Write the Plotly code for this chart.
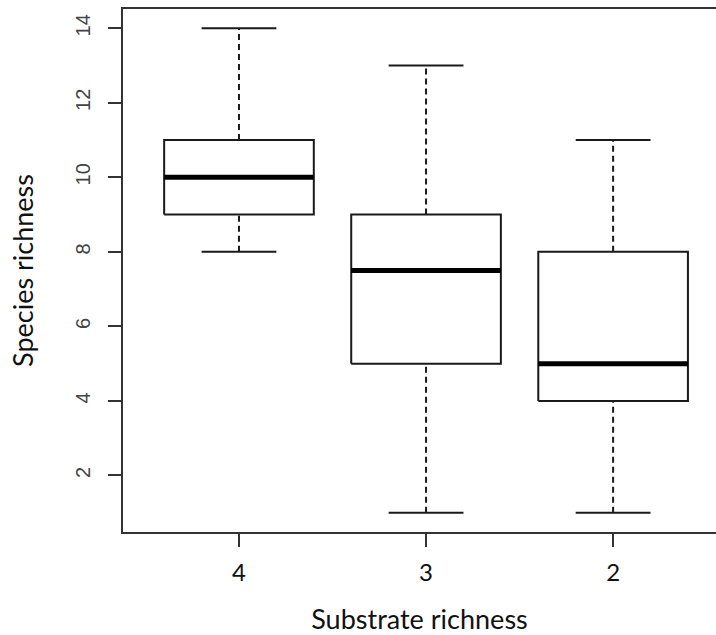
import plotly.graph_objects as go

# Data
groups = ["4", "3", "2"]          # substrate richness categories
lower_whisker = [8, 1, 1]
q1 = [9, 5, 4]
median = [10, 7.5, 5]
q3 = [11, 9, 8]
upper_whisker = [14, 13, 11]
y_ticks = [2, 4, 6, 8, 10, 12, 14]

BOX_HALF = 0.4
CAP_HALF = 0.2
LINE = "#1a1a1a"

fig = go.Figure()
for i, g in enumerate(groups):
    c = i + 1
    # whiskers (dashed)
    for a, b in ((lower_whisker[i], q1[i]), (q3[i], upper_whisker[i])):
        fig.add_trace(go.Scatter(x=[c, c], y=[a, b], mode="lines",
                                 line=dict(color=LINE, width=2, dash="6px,4px"),
                                 showlegend=False, hoverinfo="skip"))
    # caps
    for v in (lower_whisker[i], upper_whisker[i]):
        fig.add_trace(go.Scatter(x=[c - CAP_HALF, c + CAP_HALF], y=[v, v], mode="lines",
                                 line=dict(color=LINE, width=2),
                                 showlegend=False, hoverinfo="skip"))
    # box
    fig.add_trace(go.Scatter(
        x=[c - BOX_HALF, c + BOX_HALF, c + BOX_HALF, c - BOX_HALF, c - BOX_HALF],
        y=[q1[i], q1[i], q3[i], q3[i], q1[i]], mode="lines",
        line=dict(color=LINE, width=2), fill="toself", fillcolor="white",
        showlegend=False, hoverinfo="skip"))
    # median
    fig.add_trace(go.Scatter(x=[c - BOX_HALF, c + BOX_HALF], y=[median[i], median[i]],
                             mode="lines", line=dict(color="#000000", width=5),
                             showlegend=False, hoverinfo="skip"))

fig.update_layout(
    width=716, height=635,
    margin=dict(l=123, r=0, t=9, b=103),
    paper_bgcolor="white", plot_bgcolor="white",
    xaxis=dict(range=[0.38, 3.55], tickmode="array",
               tickvals=list(range(1, len(groups) + 1)), ticktext=groups,
               showgrid=False, zeroline=False, showline=True, mirror=True,
               linecolor="#333", linewidth=2, ticks="outside", ticklen=13,
               tickwidth=2, tickcolor="#333", ticklabelstandoff=5,
               tickfont=dict(family="Lato", size=24, color="#111"),
               title=dict(text="Substrate richness", standoff=25,
                          font=dict(family="Lato", size=27, color="#111"))),
    yaxis=dict(range=[0.48, 14.52], tickmode="array", tickvals=y_ticks,
               showgrid=False, zeroline=False, showline=True, mirror=False,
               linecolor="#333", linewidth=2, ticks="outside", ticklen=13,
               tickwidth=2, tickcolor="#333", tickangle=-90, ticklabelstandoff=10,
               tickfont=dict(family="Liberation Sans", size=20, color="#444"),
               title=dict(text="Species richness", standoff=31,
                          font=dict(family="Lato", size=27, color="#111"))),
)

fig.write_html("out.html")
